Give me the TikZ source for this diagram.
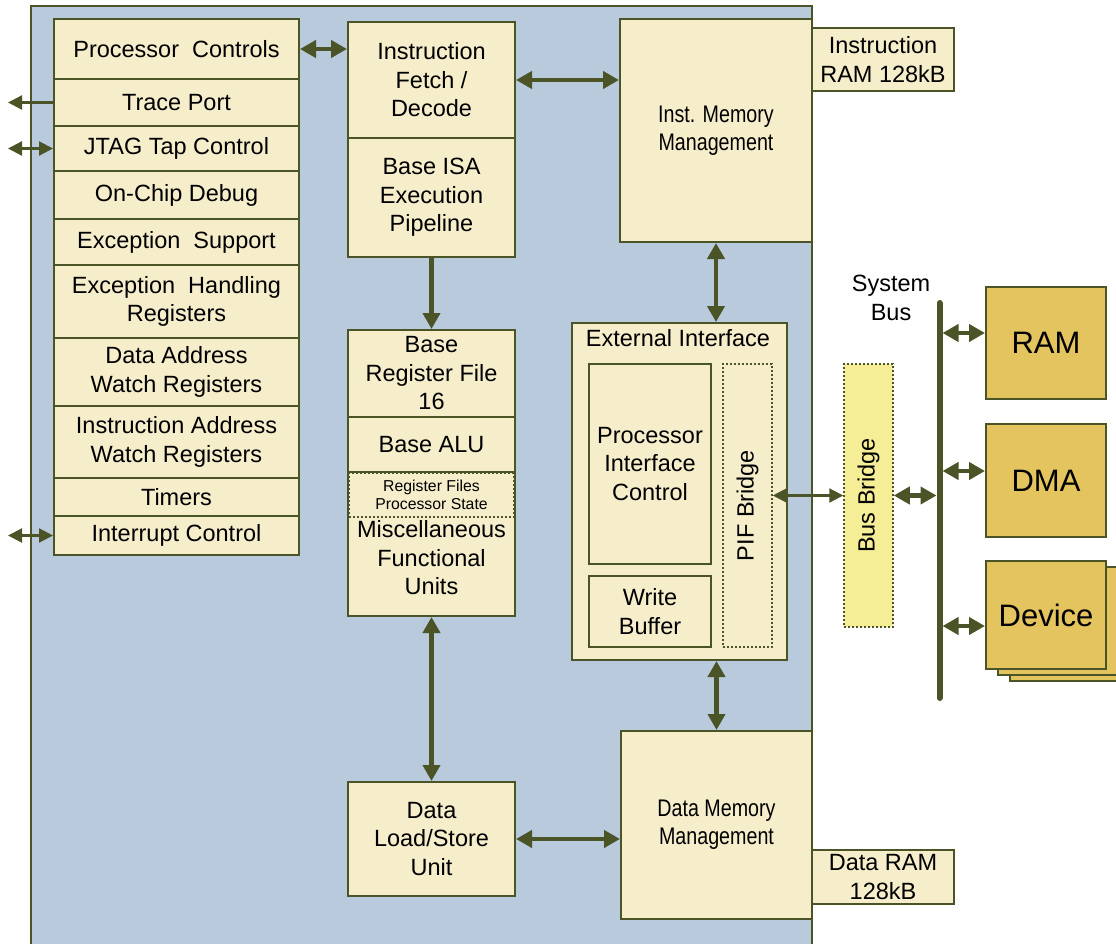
\documentclass[tikz,border=0pt]{standalone}
\usepackage{fontspec}
\setmainfont{Liberation Sans}
\newfontfamily\narrowfont[FakeStretch=0.82]{Liberation Sans}
\usetikzlibrary{arrows.meta}
\definecolor{olv}{RGB}{74,84,38}
\definecolor{cream}{RGB}{246,237,203}
\definecolor{bluebg}{RGB}{185,202,221}
\definecolor{gold}{RGB}{228,196,94}
\definecolor{bbfill}{RGB}{245,238,150}
\begin{document}
\begin{tikzpicture}[x=1pt,y=-1pt,
  mainfont/.style={font=\fontsize{23.5}{28.5}\selectfont},
  box/.style={draw=olv, fill=cream, line width=2pt, inner sep=0pt, align=center, mainfont},
  txt/.style={inner sep=0pt, align=center, mainfont},
  narrowbox/.style={box, font=\narrowfont\fontsize{24}{28}\selectfont},
  dotbox/.style={draw=olv, line width=1.5pt, dash pattern=on 2pt off 2pt, inner sep=0pt, align=center},
  goldbox/.style={draw=olv, fill=gold, line width=2pt, inner sep=0pt, align=center, font=\fontsize{31}{36}\selectfont},
  bigarr/.style={draw=olv, line width=4.5pt, >={Triangle[length=16pt,width=17pt]}},
  smallarr/.style={draw=olv, line width=2.2pt, >={Triangle[length=14pt,width=14pt]}}
]
\useasboundingbox (0,0) rectangle (1116,944);
% background processor block
\draw[draw=olv, fill=bluebg, line width=2pt] (31,6) rectangle (812,950);

% left column
\node[box, minimum width=245, minimum height=60] (pc) at (176.5,49) {Processor\ \ Controls};
\node[box, minimum width=245, minimum height=47] (tp) at (176.5,102.5) {Trace Port};
\node[box, minimum width=245, minimum height=45] (jtag) at (176.5,148.5) {JTAG Tap Control};
\node[box, minimum width=245, minimum height=48] (ocd) at (176.5,195) {On-Chip Debug};
\node[box, minimum width=245, minimum height=46] (es) at (176.5,242) {Exception\ \ Support};
\node[box, minimum width=245, minimum height=73] (ehr) at (176.5,301.5) {Exception\ \ Handling\\Registers};
\node[box, minimum width=245, minimum height=68] (daw) at (176.5,372) {Data Address\\Watch Registers};
\node[box, minimum width=245, minimum height=72] (iaw) at (176.5,442) {Instruction Address\\Watch Registers};
\node[box, minimum width=245, minimum height=38] (tim) at (176.5,497) {Timers};
\node[box, minimum width=245, minimum height=39] (ic) at (176.5,535.5) {Interrupt Control};

\coordinate (tpo) at (8,102.5);
\coordinate (jtago) at (8,148.5);
\coordinate (ico) at (8,535.5);
\draw[smallarr,->] (tp.west) -- (tpo);
\draw[smallarr,<->] (jtago) -- (jtag.west);
\draw[smallarr,<->] (ico) -- (ic.west);

% middle column
\node[box, minimum width=167, minimum height=116] (ifd) at (431.5,80) {Instruction\\Fetch /\\Decode};
\node[box, minimum width=167, minimum height=119] (isa) at (431.5,197.5) {Base ISA\\Execution\\Pipeline};
\node[box, minimum width=167, minimum height=87] (brf) at (431.5,373.5) {Base\\Register File\\16};
\node[box, minimum width=167, minimum height=199] (mfu) at (431.5,516.5) {};
\draw[olv, line width=2pt] (mfu.north west) ++(0,56) -- ++(167,0);
\node[txt] (alu) at (431.5,445) {Base ALU};
\node[dotbox, fill=cream, minimum width=164.5, minimum height=44, font=\fontsize{15.8}{18.3}\selectfont] (rf) at (431.5,495) {Register Files\\Processor State};
\node[txt] (misc) at (431.5,558) {Miscellaneous\\Functional\\Units};
\node[box, minimum width=167, minimum height=114] (dls) at (431.5,839) {Data\\Load/Store\\Unit};

% right part inside
\node[narrowbox, minimum width=192, minimum height=223] (imm) at (716,130.5) {Inst. Memory\\Management};
\node[box, minimum width=142, minimum height=63] (iram) at (883,59.5) {Instruction\\RAM 128kB};
\node[box, minimum width=215, minimum height=337] (ei) at (679.5,491.5) {};
\node[txt] (eit) at (678,338) {External Interface};
\node[box, minimum width=122, minimum height=200] (pic) at (650,464) {Processor\\Interface\\Control};
\node[box, minimum width=122, minimum height=71] (wb) at (650,611.5) {Write\\Buffer};
\node[dotbox, minimum width=49, minimum height=283] (pif) at (747.5,505.5) {};
\node[txt, rotate=90] (pift) at (747.5,505.5) {PIF Bridge};
\node[narrowbox, minimum width=191, minimum height=188] (dmm) at (716.5,825) {Data Memory\\Management};
\node[box, minimum width=142, minimum height=54] (dram) at (883,877) {Data RAM\\128kB};

% system side
\node[dotbox, fill=bbfill, minimum width=49, minimum height=263] (bb) at (868.5,495.5) {};
\node[txt, rotate=90] (bbt) at (868.5,495.5) {Bus Bridge};
\node[txt] (sbl) at (891,298) {System\\Bus};
\coordinate (busT) at (939.5,303);
\coordinate (busB) at (939.5,698);
\draw[olv, line width=6pt, line cap=round] (busT) -- (busB);

\node[goldbox, minimum width=120, minimum height=112] (ram) at (1046,343) {RAM};
\node[goldbox, minimum width=120, minimum height=113] (dma) at (1046,480.5) {DMA};
\node[goldbox, minimum width=120, minimum height=108] (dev3) at (1070,627) {};
\node[goldbox, minimum width=120, minimum height=108] (dev2) at (1058,621) {};
\node[goldbox, minimum width=120, minimum height=108] (dev) at (1046,615) {Device};

% connectors
\draw[bigarr,<->] (pc.east) -- (pc.east -| ifd.west);
\draw[bigarr,<->] (ifd.east) -- (ifd.east -| imm.west);
\draw[bigarr,->] (isa.south) -- (brf.north);
\draw[bigarr,<->] (mfu.south) -- (mfu.south |- dls.north);
\draw[bigarr,<->] (dls.east) -- (dls.east -| dmm.west);
\draw[bigarr,<->] (imm.south) -- (ei.north -| imm.south);
\draw[bigarr,<->] (ei.south -| dmm.north) -- (dmm.north);
\draw[smallarr,<->] (pif.east |- bb.west) -- (bb.west);
\draw[bigarr,<->, shorten >=3pt] (bb.east) -- (bb.east -| busT);
\draw[bigarr,<->, shorten <=3pt] ([yshift=10pt]ram.west -| busT) -- ([yshift=10pt]ram.west);
\draw[bigarr,<->, shorten <=3pt] ([yshift=9.5pt]dma.west -| busT) -- ([yshift=9.5pt]dma.west);
\draw[bigarr,<->, shorten <=3pt] ([yshift=-11pt]dev.west -| busT) -- ([yshift=-11pt]dev.west);
\end{tikzpicture}
\end{document}
